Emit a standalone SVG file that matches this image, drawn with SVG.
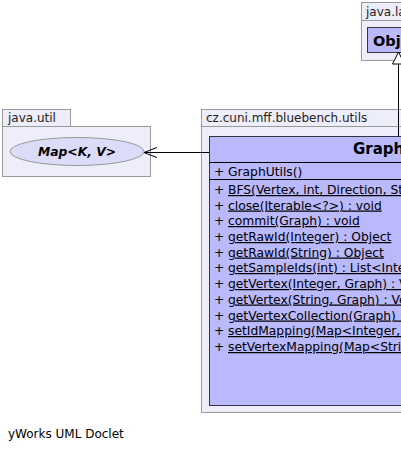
<svg xmlns="http://www.w3.org/2000/svg" width="401" height="451" viewBox="0 0 401 451">
<style>
.pkg{fill:#eeeefa;stroke:#999999;stroke-width:1}
.cls{fill:#b9b9fc;stroke:#333344;stroke-width:1}
.sep{stroke:#000;stroke-width:1}
.lbl{font-family:"DejaVu Sans",sans-serif;font-size:12px;fill:#222}
.m{font-family:"DejaVu Sans",sans-serif;font-size:12.3px;fill:#000;text-decoration:underline}
.p{font-family:"DejaVu Sans",sans-serif;font-size:12.3px;fill:#000}
.title{font-family:"DejaVu Sans",sans-serif;font-size:15px;font-weight:bold;fill:#000}
.edge{fill:none;stroke:#000;stroke-width:1}
</style>
<rect width="401" height="451" fill="#ffffff"/>

<g id="pkg-java-lang">
  <rect class="pkg" x="361.5" y="2.5" width="60" height="18"/>
  <rect class="pkg" x="361.5" y="20.5" width="60" height="40"/>
  <text class="lbl" x="366" y="16">java.lang</text>
  <g id="node-Object">
    <rect class="cls" x="367.5" y="27.5" width="60" height="25"/>
    <text class="title" style="font-size:14.5px" x="373" y="45.5">Object</text>
  </g>
</g>

<g id="pkg-java-util">
  <rect class="pkg" x="2.5" y="109.5" width="68" height="17"/>
  <rect class="pkg" x="2.5" y="126.5" width="148" height="50"/>
  <text class="lbl" x="8" y="122">java.util</text>
  <g id="node-Map">
    <ellipse cx="77" cy="151.5" rx="67" ry="14" fill="#dcdcf8" stroke="#999999"/>
    <text x="77" y="156" text-anchor="middle" font-family="DejaVu Sans, sans-serif" font-size="12.3" font-weight="bold" font-style="italic">Map&lt;K, V&gt;</text>
  </g>
</g>

<g id="pkg-cz">
  <rect class="pkg" x="201.5" y="109.5" width="220" height="17"/>
  <rect class="pkg" x="201.5" y="126.5" width="220" height="286"/>
  <text class="lbl" x="206" y="122">cz.cuni.mff.bluebench.utils</text>
  <g id="node-GraphUtils">
    <rect class="cls" x="209.5" y="136.5" width="300" height="269"/>
    <text class="title" x="353" y="154">GraphUtils</text>
    <line class="sep" x1="209.5" y1="162.5" x2="401" y2="162.5"/>
    <text class="p" x="214" y="176">+</text><text class="p" x="228" y="176">GraphUtils()</text>
    <line class="sep" x1="209.5" y1="179.5" x2="401" y2="179.5"/>
    <g>
      <text class="p" x="214" y="194">+</text><text class="m" x="228" y="194">BFS(Vertex, int, Direction, String...) : Set</text>
      <text class="p" x="214" y="209.5">+</text><text class="m" x="228" y="209.5">close(Iterable&lt;?&gt;) : void</text>
      <text class="p" x="214" y="225">+</text><text class="m" x="228" y="225">commit(Graph) : void</text>
      <text class="p" x="214" y="241">+</text><text class="m" x="228" y="241">getRawId(Integer) : Object</text>
      <text class="p" x="214" y="256.5">+</text><text class="m" x="228" y="256.5">getRawId(String) : Object</text>
      <text class="p" x="214" y="272">+</text><text class="m" x="228" y="272">getSampleIds(int) : List&lt;Integer&gt;</text>
      <text class="p" x="214" y="288">+</text><text class="m" x="228" y="288">getVertex(Integer, Graph) : Vertex</text>
      <text class="p" x="214" y="303.5">+</text><text class="m" x="228" y="303.5">getVertex(String, Graph) : Vertex</text>
      <text class="p" x="214" y="319.5">+</text><text class="m" x="228" y="319.5">getVertexCollection(Graph) : Collection</text>
      <text class="p" x="214" y="335">+</text><text class="m" x="228" y="335">setIdMapping(Map&lt;Integer, Object&gt;) : void</text>
      <text class="p" x="214" y="351">+</text><text class="m" x="228" y="351">setVertexMapping(Map&lt;String, Vertex&gt;) : void</text>
    </g>
  </g>
</g>

<g id="connectors">
  <path class="edge" d="M398.5,64 L398.5,136"/>
  <polygon points="398.5,52 392.5,64 404.5,64" fill="#ffffff" stroke="#000"/>
  <path class="edge" d="M209,152.5 L144,152.5"/>
  <path class="edge" d="M157,147.5 L144,152.5 L157,157.5"/>
</g>

<text class="lbl" x="8" y="438" style="fill:#000">yWorks UML Doclet</text>
</svg>
